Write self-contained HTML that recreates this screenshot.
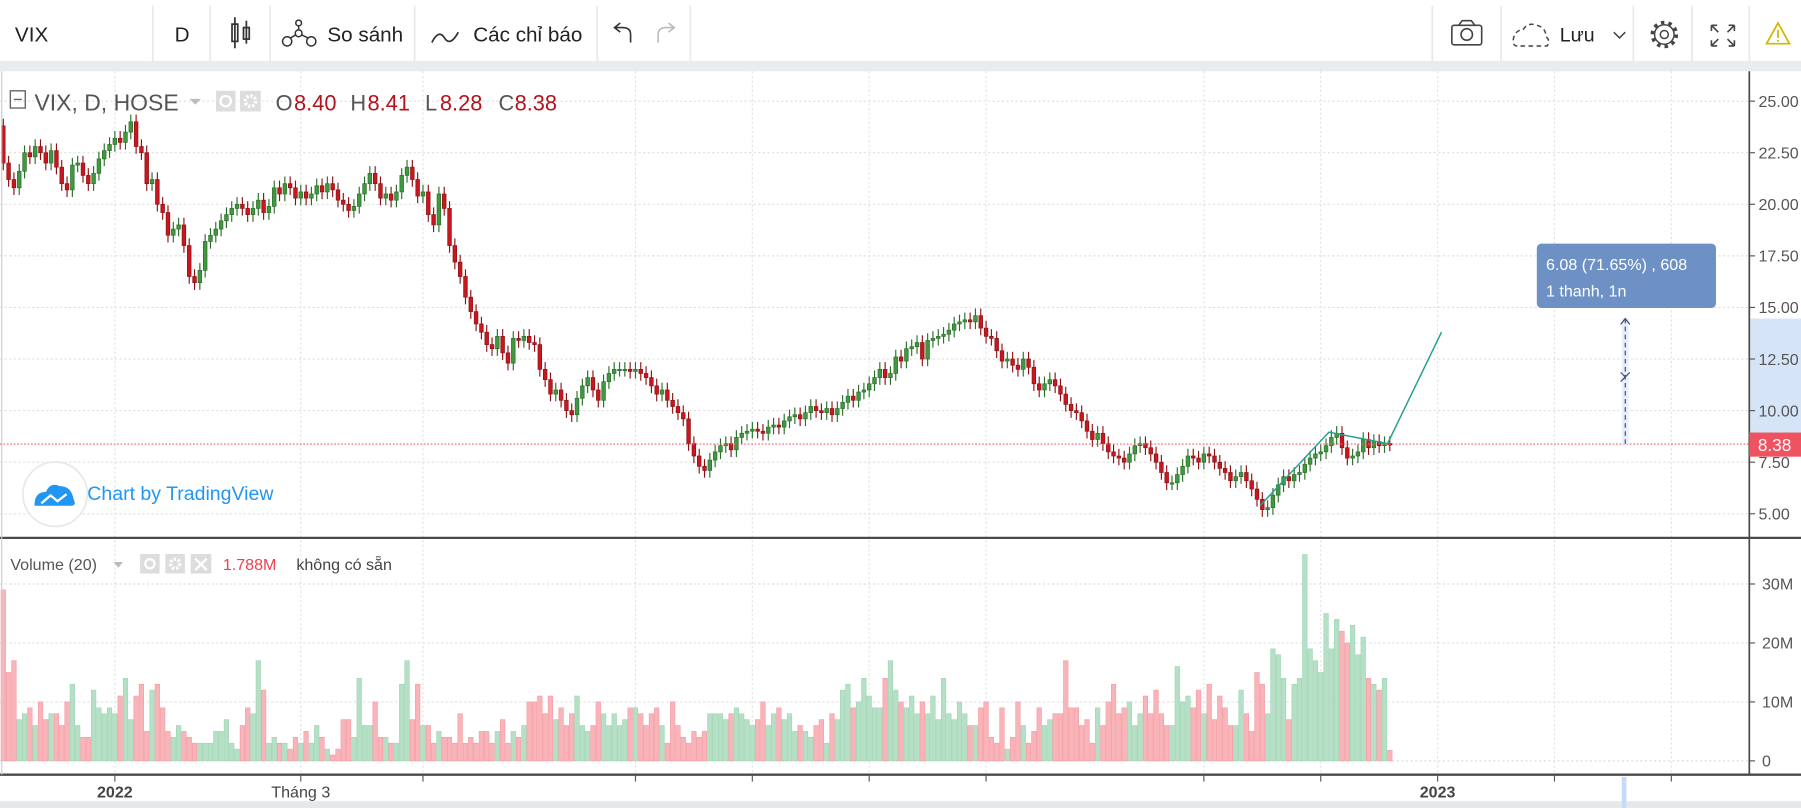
<!DOCTYPE html>
<html><head><meta charset="utf-8"><style>
html,body{margin:0;padding:0;background:#fff;overflow:hidden}
svg{display:block}
text{font-family:"Liberation Sans","DejaVu Sans",sans-serif}
</style></head><body>
<svg id="chart" width="1801" height="808" viewBox="0 0 1568 703" preserveAspectRatio="none" xmlns="http://www.w3.org/2000/svg">
<rect x="0" y="0" width="1568" height="703" fill="#fff"/>
<g>
 <rect x="0" y="0" width="1568" height="53" fill="#fff"/>
 <rect x="0" y="53" width="1568" height="9" fill="#e9ecef"/>
 <g stroke="#e6e9ee" stroke-width="1.5">
  <line x1="133" y1="5" x2="133" y2="53"/><line x1="183" y1="5" x2="183" y2="53"/><line x1="235" y1="5" x2="235" y2="53"/>
  <line x1="361" y1="5" x2="361" y2="53"/><line x1="520" y1="5" x2="520" y2="53"/><line x1="601" y1="5" x2="601" y2="53"/>
  <line x1="1247" y1="5" x2="1247" y2="53"/><line x1="1307" y1="5" x2="1307" y2="53"/><line x1="1422" y1="5" x2="1422" y2="53"/>
  <line x1="1473" y1="5" x2="1473" y2="53"/><line x1="1523" y1="5" x2="1523" y2="53"/>
 </g>
 <text x="13" y="36" font-size="18" fill="#222">VIX</text>
 <text x="152" y="36" font-size="18" fill="#222">D</text>
 <g stroke="#333" fill="none" stroke-width="1.5">
  <rect x="202" y="21" width="5" height="15"/><line x1="204.5" y1="15" x2="204.5" y2="42"/>
  <rect x="212" y="24" width="5" height="10"/><line x1="214.5" y1="18" x2="214.5" y2="38"/>
 </g>
 <g>
  <g stroke="#333" fill="none" stroke-width="1.3"><circle cx="250" cy="36" r="4"/><circle cx="260" cy="29" r="3"/><circle cx="271" cy="36" r="4"/><circle cx="260" cy="20" r="2.5"/><line x1="253" y1="33" x2="258" y2="30"/><line x1="262" y1="30" x2="268" y2="33"/><line x1="260" y1="22" x2="260" y2="26"/></g>
  <text x="285" y="36" font-size="18" fill="#222">So sánh</text>
 </g>
 <g>
  <path d="M376 37 Q382 25 387 33 Q392 41 399 28" stroke="#333" fill="none" stroke-width="1.5"/>
  <text x="412" y="36" font-size="18" fill="#222">Các chỉ báo</text>
 </g>
 <path d="M549 37 L549 30 Q549 24 542 24 L536 24 M540 20 L535 24 L540 28" stroke="#333" fill="none" stroke-width="1.4"/>
 <path d="M573 37 L573 30 Q573 24 580 24 L586 24 M582 20 L587 24 L582 28" stroke="#bbb" fill="none" stroke-width="1.4"/>
 <g stroke="#444" fill="none" stroke-width="1.4"><rect x="1264" y="22" width="26" height="17" rx="2"/><path d="M1270 22 L1273 18 L1281 18 L1284 22"/><circle cx="1277" cy="30" r="5"/></g>
 <g>
  <path d="M1321 40 Q1316 40 1318 32 Q1320 26 1326 26 Q1330 19 1338 22 Q1346 24 1346 32 Q1350 35 1347 40 Z" stroke="#444" fill="none" stroke-width="1.3" stroke-dasharray="4 3"/>
  <text x="1358" y="36" font-size="17" fill="#222">Lưu</text>
  <path d="M1405 28 L1410 33 L1415 28" stroke="#444" fill="none" stroke-width="1.3"/>
 </g>
 <g stroke="#444" fill="none" stroke-width="1.3"><circle cx="1449" cy="30" r="3.5"/><circle cx="1449" cy="30" r="10.5" stroke-dasharray="3 3.6" stroke-width="3"/><circle cx="1449" cy="30" r="8.5"/></g>
 <g stroke="#444" fill="none" stroke-width="1.4"><path d="M1490 22 L1496 28 M1490 22 L1490 27 M1490 22 L1495 22 M1510 22 L1504 28 M1510 22 L1505 22 M1510 22 L1510 27 M1490 40 L1496 34 M1490 40 L1490 35 M1490 40 L1495 40 M1510 40 L1504 34 M1510 40 L1505 40 M1510 40 L1510 35"/></g>
 <g><path d="M1548 20 L1558 38 L1538 38 Z" stroke="#d4b400" fill="none" stroke-width="1.5"/><line x1="1548" y1="26" x2="1548" y2="33" stroke="#d4b400" stroke-width="1.5"/><circle cx="1548" cy="35.5" r="0.9" fill="#d4b400"/></g>
</g>
<g id="grid"></g>
<g id="volumes"></g>
<g id="candles"></g>
<g id="axes"></g>
<g id="overlay"></g>
</svg>
<script>
const closes=[22.0,21.2,20.8,21.6,22.5,22.3,22.8,22.5,22.0,22.6,21.8,21.0,20.7,21.9,22.0,21.4,21.0,21.5,22.2,22.6,22.9,
23.2,23.0,23.5,24.0,22.8,22.5,21.0,21.2,20.0,19.6,18.5,18.8,19.0,18.0,
16.5,16.2,16.8,18.2,18.5,18.8,19.2,19.5,19.8,20.0,19.8,19.5,19.8,20.2,19.6,19.9,20.8,20.5,21.0,20.8,20.3,
20.6,20.3,20.5,20.9,20.6,21.0,20.7,20.2,20.0,19.7,19.9,20.5,21.0,21.5,21.0,20.3,20.5,20.2,20.6,21.4,
21.8,21.2,20.4,20.6,19.5,19.0,20.5,19.8,18.0,17.2,16.5,15.5,14.8,14.2,13.8,13.2,13.0,13.6,12.8,12.3,
13.5,13.4,13.6,13.3,13.2,12.0,11.5,10.8,11.0,10.5,10.0,9.8,10.6,11.2,11.6,11.0,10.5,11.4,11.8,12.0,
12.0,12.0,11.9,12.0,11.8,11.6,11.2,10.8,11.0,10.5,10.2,9.9,9.6,8.4,7.8,7.3,7.1,7.6,8.0,8.3,
8.4,8.1,8.7,8.9,9.0,9.1,9.0,8.9,9.2,9.3,9.2,9.5,9.7,9.8,9.6,9.9,10.2,10.0,9.9,10.1,
9.8,10.1,10.4,10.7,10.5,10.9,11.0,11.3,11.6,12.0,11.6,11.8,12.6,12.4,13.0,13.1,13.3,12.5,13.4,13.5,
13.6,13.7,13.9,14.2,14.3,14.4,14.3,14.6,14.0,13.6,
13.5,12.9,12.4,12.5,12.2,12.0,12.5,12.1,11.3,11.0,11.3,11.5,11.2,10.8,10.3,10.0,9.9,9.5,9.0,8.6,
8.9,8.4,8.0,7.8,7.7,7.5,7.9,8.3,8.4,8.2,7.9,7.5,7.0,6.5,6.5,6.9,7.3,7.8,7.7,7.5,
7.9,7.8,7.5,7.2,7.0,6.6,6.8,7.0,6.6,6.2,5.7,5.2,5.3,5.9,6.4,
6.8,6.6,6.9,7.0,7.4,7.7,7.9,8.0,8.3,8.7,8.9,8.2,7.7,7.8,8.0,8.6,8.2,8.5,8.3,8.4,8.38];
const volumes=[29,15,17,7,8,9,6,10,7,8,8,6,10,13,6,4,4,12,9,8,9,
8,11,14,7,11,13,5,12,13,9,5,4,6,5,
4,3,3,3,3,5,5,7,3,2,6,9,8,17,12,3,4,3,3,2,4,
3,5,3,6,4,2,1,2,7,7,4,14,6,6,10,4,4,3,3,13,
17,7,13,6,6,3,5,4,4,3,8,3,4,3,5,5,3,5,7,3,
5,4,6,10,10,11,8,11,7,9,6,8,11,6,5,6,10,8,6,8,
6,7,9,9,8,6,8,9,6,3,10,6,4,3,5,4,5,8,8,8,
7,8,9,8,7,6,7,10,6,8,9,7,8,5,6,5,4,6,7,3,
8,7,12,13,9,10,14,11,9,9,14,17,12,10,9,11,8,10,8,11,
7,14,8,7,10,8,6,6,9,10,
4,3,9,2,4,10,6,3,5,9,6,7,8,8,17,9,9,6,7,3,
9,6,10,13,8,9,10,6,8,11,8,12,8,6,6,16,10,11,9,12,
8,13,7,11,9,6,6,12,8,5,15,13,8,19,18,
14,7,13,14,35,19,17,15,25,19,24,22,20,23,18,21,14,13,12,14,1.788];
const firstOpen=[23.8];
const priceTicks=[25,22.5,20,17.5,15,12.5,10,7.5,5];
const volTicks=[0,10,20,30];
const volTickLabels=["0","10M","20M","30M"];
const timeLabels=["2022","Tháng 3","2023"];
const timeLabelBars=[21,56,270];
const gridBars=[21,56,79,119,141,163,185,226,248,270,292,314];
const lastPrice=[8.38];
const measureTop=[14.46];

const NS="http://www.w3.org/2000/svg";
function el(tag,attrs,parent){const e=document.createElementNS(NS,tag);for(const k in attrs)e.setAttribute(k,attrs[k]);parent.appendChild(e);return e;}
const xOf=i=>100+(i-21)*4.625;
const yP=p=>447-(p-5)*17.95;
const yV=v=>662-v*5.13;
const G=document.getElementById('grid'),V=document.getElementById('volumes'),C=document.getElementById('candles'),A=document.getElementById('axes'),O=document.getElementById('overlay');
const ly=yP(lastPrice[0]), my=yP(measureTop[0]);

// axis highlight (behind labels)
el('rect',{x:1524,y:my,width:44,height:ly-my,fill:'#d6e4f8'},G);
// grid
gridBars.forEach(b=>{const x=xOf(b);
 const l=el('line',{x1:x,y1:62,x2:x,y2:673,stroke:'#e3e3e3','stroke-dasharray':'2 2'},G);
 
 });
priceTicks.forEach(p=>{const l=el('line',{x1:0,y1:yP(p),x2:1523,y2:yP(p),stroke:'#e0e0e0','stroke-dasharray':'2 2'},G);
 
 });
volTicks.forEach(v=>{const l=el('line',{x1:0,y1:yV(v),x2:1523,y2:yV(v),stroke:'#e0e0e0','stroke-dasharray':'2 2'},G);
 
 });

// candles & volumes
closes.forEach((c,i)=>{
 const o=i===0?firstOpen[0]:closes[i-1];
 const up=c>=o;
 const hi=Math.max(o,c)+0.35, lo=Math.min(o,c)-0.35;
 const x=xOf(i);
 const g=el('g',{},C);
 
 
 const col=up?'#3f9a3f':'#c8171e', bd=up?'#2a6e2a':'#8e1015';
 el('line',{x1:x,y1:yP(hi),x2:x,y2:yP(lo),stroke:bd,'stroke-width':1},g);
 const t=yP(Math.max(o,c)),b=yP(Math.min(o,c));
 el('rect',{x:x-1.6,y:t,width:3.2,height:Math.max(1.2,b-t),fill:col,stroke:bd,'stroke-width':0.6},g);
 const v=volumes[i]; if(v===undefined)return;
 const r=el('rect',{x:x-2,y:yV(v),width:4,height:662-yV(v),fill:up?'#b5e0c5':'#f9b4b9',stroke:up?'#9ed3b3':'#f29aa1','stroke-width':0.5},V);
 
 
});

// pane separators and axes
el('line',{x1:0,y1:468,x2:1568,y2:468,stroke:'#4a4a4a','stroke-width':2},A);
el('line',{x1:0,y1:674,x2:1568,y2:674,stroke:'#4a4a4a','stroke-width':2},A);
el('line',{x1:1523,y1:62,x2:1523,y2:674,stroke:'#4a4a4a','stroke-width':1.5},A);
el('line',{x1:1.5,y1:62,x2:1.5,y2:674,stroke:'#ccc','stroke-width':1},A);
el('rect',{x:0,y:697,width:1568,height:6,fill:'#e6e8ec'},A);
priceTicks.forEach(p=>{const y=yP(p);
 el('line',{x1:1523,y1:y,x2:1528,y2:y,stroke:'#555'},A);
 const t=el('text',{x:1531,y:y+5,'font-size':14,fill:'#555'},A);t.textContent=p.toFixed(2);
 
 });
volTicks.forEach((v,i)=>{const y=yV(v);
 el('line',{x1:1523,y1:y,x2:1528,y2:y,stroke:'#555'},A);
 const t=el('text',{x:1534,y:y+5,'font-size':14,fill:'#555'},A);t.textContent=volTickLabels[i];
 
 });
gridBars.forEach(b=>el('line',{x1:xOf(b),y1:674,x2:xOf(b),y2:680,stroke:'#555'},A));
timeLabels.forEach((s,i)=>{const t=el('text',{x:xOf(timeLabelBars[i]),y:694,'font-size':14,fill:'#444','text-anchor':'middle','font-weight':s.length===4?'bold':'normal'},A);t.textContent=s;
 
 });
el('rect',{x:1412,y:676,width:4,height:27,fill:'#c6dbf7'},A);

// last price line
el('line',{x1:0,y1:ly,x2:1523,y2:ly,stroke:'#f0606a','stroke-dasharray':'1.5 1.5','stroke-width':1},O);
const pl=el('rect',{x:1523,y:ly-10,width:45,height:21,fill:'#ef5361'},O);


const plt=el('text',{x:1545,y:ly+6,'font-size':15,fill:'#fff','text-anchor':'middle'},O);plt.textContent=lastPrice[0].toFixed(2);
// trend lines
const tl=el('polyline',{points:`1097,440 1157,376 1208,386 1255,289`,fill:'none',stroke:'#26a08e','stroke-width':1.3},O);


// measure arrow
el('rect',{x:1412,y:my,width:6,height:ly-my,fill:'#e6effb'},O);
el('line',{x1:1415,y1:my,x2:1415,y2:ly,stroke:'#3b4a66','stroke-dasharray':'4 3'},O);
el('path',{d:`M1411 ${my+5} L1415 ${my} L1419 ${my+5}`,stroke:'#3b4a66',fill:'none'},O);
el('path',{d:'M1411 324 L1415 328 L1419 324 M1411 332 L1415 328',stroke:'#3b4a66',fill:'none'},O);
</script>
<svg style="position:absolute;left:0;top:0" width="1801" height="808" viewBox="0 0 1568 703" preserveAspectRatio="none" xmlns="http://www.w3.org/2000/svg">
<g>
 <rect x="1338" y="212" width="156" height="56" rx="4" fill="#6d91c5"/>
 <text x="1346" y="235" font-size="14" fill="#fff">6.08 (71.65%) , 608</text>
 <text x="1346" y="258" font-size="14" fill="#fff">1 thanh, 1n</text>
</g>
<g>
 <rect x="9" y="79" width="13" height="15" fill="none" stroke="#666" stroke-width="1.2"/><line x1="12" y1="86.5" x2="19" y2="86.5" stroke="#666" stroke-width="1.2"/>
 <text x="30" y="96" font-size="20" fill="#555">VIX, D, HOSE</text>
 <path d="M165 86 L175 86 L170 91 Z" fill="#bbb"/>
 <rect x="188" y="79" width="17" height="18" fill="#ddd"/><circle cx="196.5" cy="88" r="4.5" fill="none" stroke="#fff" stroke-width="2"/>
 <rect x="209" y="79" width="18" height="18" fill="#ddd"/><circle cx="218" cy="88" r="4.5" fill="none" stroke="#fff" stroke-width="3" stroke-dasharray="2 1.5"/>
 <text x="240" y="96" font-size="19" fill="#555">O</text><text x="256" y="96" font-size="19" fill="#b5121b">8.40</text>
 <text x="305" y="96" font-size="19" fill="#555">H</text><text x="320" y="96" font-size="19" fill="#b5121b">8.41</text>
 <text x="370" y="96" font-size="19" fill="#555">L</text><text x="383" y="96" font-size="19" fill="#b5121b">8.28</text>
 <text x="434" y="96" font-size="19" fill="#555">C</text><text x="448" y="96" font-size="19" fill="#b5121b">8.38</text>
</g>
<g>
 <circle cx="48" cy="430" r="28" fill="#fff" stroke="#e8e8e8" stroke-width="1.5"/>
 <path d="M30 440 Q30 428 40 428 Q44 419 52 423 Q62 423 64 434 Q67 440 62 440 Z" fill="#2196f3"/>
 <path d="M36 438 L44 431 L50 436 L58 430" stroke="#fff" stroke-width="2" fill="none"/>
 <text x="76" y="435" font-size="17" fill="#2196f3">Chart by TradingView</text>
</g>
<g>
 <text x="9" y="496" font-size="14" fill="#555">Volume (20)</text>
 <path d="M99 489 L107 489 L103 494 Z" fill="#bbb"/>
 <rect x="122" y="482" width="17" height="17" fill="#ddd"/><circle cx="130.5" cy="490.5" r="4" fill="none" stroke="#fff" stroke-width="2"/>
 <rect x="144" y="482" width="17" height="17" fill="#ddd"/><circle cx="152.5" cy="490.5" r="4" fill="none" stroke="#fff" stroke-width="3" stroke-dasharray="2 1.5"/>
 <rect x="166" y="482" width="18" height="17" fill="#ddd"/><path d="M170 486 L180 496 M180 486 L170 496" stroke="#fff" stroke-width="2"/>
 <text x="194" y="496" font-size="14" fill="#ef4050">1.788M</text>
 <text x="258" y="496" font-size="14" fill="#444">không có sẵn</text>
</g>
</svg>
</body></html>
